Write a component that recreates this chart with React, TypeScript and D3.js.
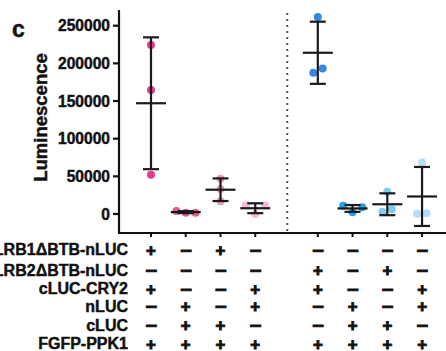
import React from "react";
import * as d3 from "d3";

// ---- data ----
const groupPositions = [0, 1, 2, 3, 4.8, 5.8, 6.8, 7.8];
const separatorPosition = 3.92;
const groupValues: number[][] = [
  [224500, 164500, 52100],
  [4000, 1800, 1700],
  [46800, 33100, 16800],
  [11500, 11400, 100],
  [261600, 187400, 193200],
  [11000, 8900, 2300],
  [29600, 3000, 6200],
  [68500, 400, 900],
];
const groupJitter: number[][] = [
  [0, 0, 0],
  [-0.27, 0, 0.28],
  [0, 0, 0],
  [-0.27, 0.28, 0],
  [0, -0.13, 0.14],
  [-0.27, 0.28, 0],
  [0, -0.14, 0.13],
  [0, -0.14, 0.13],
];
const groupColors = [
  "#ee3a8e", "#e45c93", "#eb97c0", "#f5bad8",
  "#3389e8", "#26a2ec", "#80caf4", "#b3ddf9",
];
const yTicks = [0, 50000, 100000, 150000, 200000, 250000];
const rowLabels = [
  "LRB1\u0394BTB-nLUC",
  "LRB2\u0394BTB-nLUC",
  "cLUC-CRY2",
  "nLUC",
  "cLUC",
  "FGFP-PPK1",
];
const rowSigns: string[] = [
  "+-+-----",
  "----+-+-",
  "+--++--+",
  "-+-+-+-+",
  "-++--++-",
  "++++++++",
];

// ---- layout ----
const W = 446;
const H = 351;
const axisX = 119;
const axisY = 233;
const axisTop = 10;
const rowBaselines = [255, 275.5, 294, 311.7, 330.7, 349.3];
const FONT = "'Liberation Sans', Arial, Helvetica, sans-serif";
const INK = "#111";
const thick = { stroke: INK, strokeWidth: 0.45 };

export default function App() {
  const x = d3.scaleLinear().domain([0, 1]).range([151, 151 + 34.75]);
  const y = d3.scaleLinear().domain([0, 250000]).range([214, 25.7]);
  const step = x(1) - x(0);

  return (
    <svg
      width={W}
      height={H}
      viewBox={`0 0 ${W} ${H}`}
      style={{ position: "absolute", left: 0, top: 0, background: "#fff" }}
      fontFamily={FONT}
    >
      <rect width={W} height={H} fill="#fff" />
      {/* panel label */}
      <text x={12} y={37} fontSize={23} fontWeight="bold" fill={INK} {...thick}>c</text>

      {/* y axis label */}
      <text
        transform={`translate(47,117.5) rotate(-90)`}
        textAnchor="middle"
        fontSize={18.5}
        fontWeight="bold"
        fill={INK}
        {...thick}
      >
        Luminescence
      </text>

      {/* y ticks */}
      {yTicks.map((t) => (
        <g key={t}>
          <line x1={axisX - 6} x2={axisX} y1={y(t)} y2={y(t)} stroke={INK} strokeWidth={2.2} />
          <text
            x={axisX - 9}
            y={y(t)}
            dy="0.36em"
            textAnchor="end"
            fontSize={15.6}
            fontWeight="bold"
            fill={INK}
            {...thick}
          >
            {t}
          </text>
        </g>
      ))}

      {/* separator */}
      <line
        x1={x(separatorPosition)}
        x2={x(separatorPosition)}
        y1={13}
        y2={axisY - 2}
        stroke="#555"
        strokeWidth={2}
        strokeDasharray="2 4"
      />

      {/* points and error bars */}
      {groupValues.map((vals, gi) => {
        const cx = x(groupPositions[gi]);
        const m = d3.mean(vals) as number;
        const sd = d3.deviation(vals) as number;
        return (
          <g key={gi}>
            {vals.map((v, pi) => (
              <circle
                key={pi}
                cx={cx + groupJitter[gi][pi] * step}
                cy={y(v)}
                r={4}
                fill={groupColors[gi]}
              />
            ))}
            <g stroke="#1a1a1a" strokeWidth={2.2}>
              <line x1={cx} x2={cx} y1={y(m + sd)} y2={y(m - sd)} />
              <line x1={cx - 8} x2={cx + 8} y1={y(m + sd)} y2={y(m + sd)} />
              <line x1={cx - 8} x2={cx + 8} y1={y(m - sd)} y2={y(m - sd)} />
              <line x1={cx - 15} x2={cx + 15} y1={y(m)} y2={y(m)} />
            </g>
          </g>
        );
      })}

      {/* axes */}
      <line x1={axisX} x2={axisX} y1={axisTop} y2={axisY + 1} stroke={INK} strokeWidth={2.2} />
      <line x1={axisX - 1} x2={W} y1={axisY} y2={axisY} stroke={INK} strokeWidth={2.2} />
      {groupPositions.map((p, i) => (
        <line key={i} x1={x(p)} x2={x(p)} y1={axisY} y2={axisY + 4} stroke={INK} strokeWidth={2} />
      ))}

      {/* condition table */}
      {rowLabels.map((lab, ri) => (
        <g key={ri}>
          <text
            x={128}
            y={rowBaselines[ri]}
            textAnchor="end"
            fontSize={16}
            fontWeight="bold"
            fill={INK}
            {...thick}
          >
            {lab}
          </text>
          {rowSigns[ri].split("").map((s, gi) => (
            <text
              key={gi}
              transform={`translate(${x(groupPositions[gi])},${rowBaselines[ri] + 0.5}) scale(${s === "+" ? 1.05 : 1.25},1)`}
              textAnchor="middle"
              fontSize={16}
              fontWeight="bold"
              fill={INK}
              stroke={INK}
              strokeWidth={0.9}
            >
              {s === "+" ? "+" : "\u2212"}
            </text>
          ))}
        </g>
      ))}
    </svg>
  );
}
